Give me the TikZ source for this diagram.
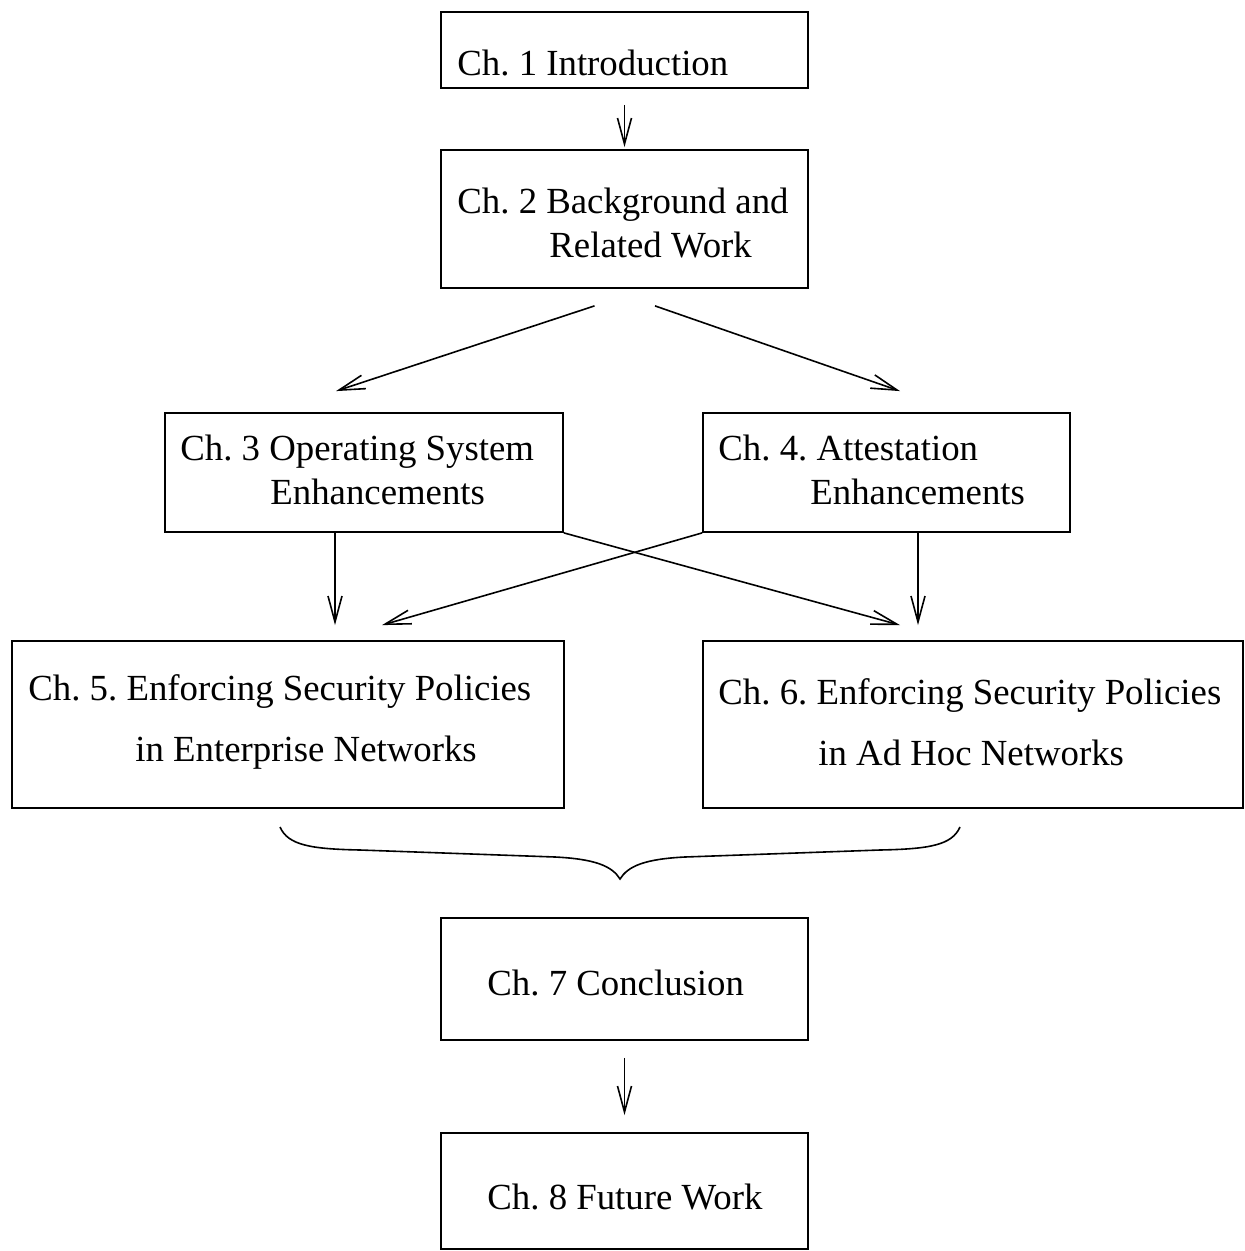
\documentclass[tikz,border=0pt]{standalone}
\usepackage{fontspec}
\setmainfont{Liberation Serif}
\usetikzlibrary{calc,arrows.meta}
\frenchspacing

\begin{document}
\begin{tikzpicture}[x=0.5pt, y=-0.5pt,
    chbox/.style={draw=black, line width=0.9pt, inner sep=0pt},
    chtext/.style={anchor=west, align=left, inner sep=0pt, font=\fontsize{18.4}{22}\selectfont},
    arr/.style={line width=0.8pt, -{Straight Barb[length=13pt, width=7pt]}}]
        \useasboundingbox (0,0) rectangle (1245,1251);
        % chapter boxes
        \node [chbox, minimum width=183.5pt, minimum height=38pt] (intro) at (624.5,50) {};
        \node [chbox, minimum width=183.5pt, minimum height=69pt] (backgr) at (624.5,219) {};
        \node [chbox, minimum width=199pt, minimum height=59.5pt] (osenh) at (364,472.5) {};
        \node [chbox, minimum width=183.5pt, minimum height=59.5pt] (attenh) at (886.5,472.5) {};
        \node [chbox, minimum width=276pt, minimum height=83.5pt] (enterp) at (288,724.5) {};
        \node [chbox, minimum width=270pt, minimum height=83.5pt] (adhoc) at (973,724.5) {};
        \node [chbox, minimum width=183.5pt, minimum height=61pt] (concl) at (624.5,979) {};
        \node [chbox, minimum width=183.5pt, minimum height=58pt] (future) at (624.5,1191) {};
        % chapter titles
        \node [chtext] (introtxt) at (457,63) {Ch. 1 Introduction};
        \node [chtext] (backgrtxt) at (457,223) {Ch. 2 Background and\\\hspace*{46pt}Related Work};
        \node [chtext] (osenhtxt) at (180,470) {Ch. 3 Operating System\\\hspace*{45pt}Enhancements};
        \node [chtext] (attenhtxt) at (718,470) {Ch. 4. Attestation\\\hspace*{46pt}Enhancements};
        \node [chtext] (enterptxt) at (28,722) {Ch. 5. Enforcing Security Policies\\[8.5pt]\hspace*{53.5pt}in Enterprise Networks};
        \node [chtext] (adhoctxt) at (718,722) {Ch. 6. Enforcing Security Policies\\[8.5pt]\hspace*{50pt}in Ad Hoc Networks};
        \node [chtext] (concltxt) at (487,983) {Ch. 7 Conclusion};
        \node [chtext] (futuretxt) at (487,1197) {Ch. 8 Future Work};
        % arrows
        \draw [arr] ($(intro.south)+(0,16)$) -- ($(backgr.north)+(0,-2)$);
        \draw [arr] ($(backgr.south)+(-30,17)$) -- ($(osenh.north)+(-28,-21)$);
        \draw [arr] ($(backgr.south)+(30.5,17)$) -- ($(attenh.north)+(13.5,-21)$);
        \draw [arr] ($(osenh.south)+(-29,0)$) -- ($(enterp.north)+(47,-15)$);
        \draw [arr] ($(attenh.south)+(31.5,0)$) -- ($(adhoc.north)+(-55,-15)$);
        \draw [arr] (osenh.south east) -- ($(adhoc.north)+(-73,-15)$);
        \draw [arr] (attenh.south west) -- ($(enterp.north)+(94,-15)$);
        \draw [arr] ($(concl.south)+(0,17)$) -- ($(future.north)+(0,-17)$);
        % brace
        \draw [line width=0.8pt] (280,827) .. controls (288,845) and (310,849) .. (360,850)
            -- (555,857) .. controls (595,859) and (612,866) .. (620,879)
            .. controls (628,866) and (645,859) .. (685,857)
            -- (880,850) .. controls (930,849) and (952,845) .. (960,827);
    \end{tikzpicture}
\end{document}
